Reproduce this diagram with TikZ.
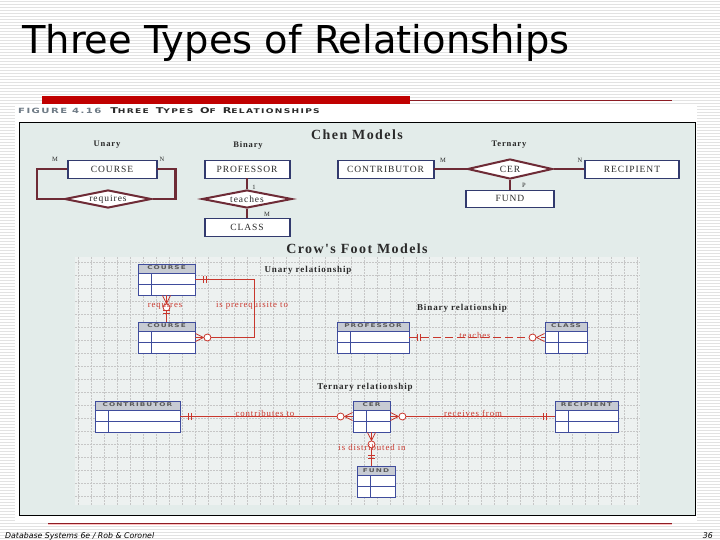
\documentclass[tikz,border=0pt]{standalone}
\usepackage{fontspec}
\setmainfont{Liberation Serif}
\newfontfamily\slidefont{DejaVu Sans}
\newfontfamily\capfont[FakeStretch=1.4,LetterSpace=20]{DejaVu Sans}
\newfontfamily\chenfont[LetterSpace=10]{Liberation Serif}
\usepackage{xcolor}
\usetikzlibrary{positioning,shapes.geometric,decorations.markings}

\definecolor{stripe}{HTML}{E2E2E2}
\definecolor{barred}{HTML}{C00000}
\definecolor{linered}{HTML}{8C1C24}
\definecolor{framefill}{HTML}{E3ECEA}
\definecolor{gridfill}{HTML}{EDF1F0}
\definecolor{chenline}{HTML}{6E2B36}
\definecolor{chennavy}{HTML}{323A6E}
\definecolor{entblue}{HTML}{3F4C9C}
\definecolor{headgrey}{HTML}{C7CBD3}
\definecolor{relred}{HTML}{C8372D}
\definecolor{figgrey}{HTML}{6F7B86}
\definecolor{figdark}{HTML}{2A2A2A}

\newcommand{\bigsc}[2]{{\fontsize{8}{9}\selectfont #1}{\fontsize{6.5}{7}\selectfont #2}}

\tikzset{
    onestart/.style={postaction={decorate,decoration={markings,
        mark=at position 8pt with {\draw[solid,relred,line width=0.8pt] (0pt,-3.5pt) -- (0pt,3.5pt);},
        mark=at position 11pt with {\draw[solid,relred,line width=0.8pt] (0pt,-3.5pt) -- (0pt,3.5pt);}}}},
    oneend/.style={postaction={decorate,decoration={markings,
        mark=at position -8pt with {\draw[solid,relred,line width=0.8pt] (0pt,-3.5pt) -- (0pt,3.5pt);},
        mark=at position -11pt with {\draw[solid,relred,line width=0.8pt] (0pt,-3.5pt) -- (0pt,3.5pt);}}}},
    manystart/.style={postaction={decorate,decoration={markings,
        mark=at position 8pt with {\draw[solid,relred,line width=0.8pt] (-8pt,4pt) -- (0pt,0pt) -- (-8pt,-4pt);
            \draw[solid,relred,line width=0.8pt,fill=white] (4pt,0pt) circle (3.5pt);}}}},
    manyend/.style={postaction={decorate,decoration={markings,
        mark=at position -8pt with {\draw[solid,relred,line width=0.8pt] (8pt,4pt) -- (0pt,0pt) -- (8pt,-4pt);
            \draw[solid,relred,line width=0.8pt,fill=white] (-4pt,0pt) circle (3.5pt);}}}},
}

\begin{document}
\begin{tikzpicture}[x=1pt,y=-1pt,
    chenbox/.style={draw=chennavy, line width=0.8pt, fill=white, inner sep=0pt, minimum height=18pt,
        font=\chenfont\fontsize{9.5}{10}\selectfont, text=figdark,
        path picture={\draw[chennavy,line width=3pt]
            (path picture bounding box.north west) -- (path picture bounding box.south west)
            (path picture bounding box.north east) -- (path picture bounding box.south east);}},
    chenrel/.style={diamond, aspect=5, draw=chenline, line width=2pt, fill=white, inner sep=0.5pt,
        font=\chenfont\fontsize{9.5}{10}\selectfont, text=figdark},
    chenlink/.style={draw=chenline, line width=2.2pt},
    chenhead/.style={font=\chenfont\bfseries\fontsize{8.5}{9}\selectfont, text=figdark},
    card/.style={font=\chenfont\fontsize{6.5}{7}\selectfont, text=figdark, inner sep=0pt},
    crowent/.style={draw=entblue, line width=0.9pt, fill=white, inner sep=0pt, minimum height=31pt,
        path picture={
            \fill[headgrey] (path picture bounding box.north west) rectangle ([yshift=-9pt]path picture bounding box.north east);
            \draw[entblue,line width=0.9pt]
                ([yshift=-9pt]path picture bounding box.north west) -- ([yshift=-9pt]path picture bounding box.north east)
                ([yshift=-20pt]path picture bounding box.north west) -- ([yshift=-20pt]path picture bounding box.north east)
                ([xshift=13pt,yshift=-9pt]path picture bounding box.north west) -- ([xshift=13pt]path picture bounding box.south west);}},
    entlabel/.style={anchor=north, inner sep=0pt, yshift=-2.2pt, font=\capfont\bfseries\fontsize{5.2}{5.2}\selectfont, text=black!65},
    relline/.style={draw=relred, line width=0.9pt},
    rellabel/.style={font=\chenfont\fontsize{8.8}{9}\selectfont, text=relred, inner sep=0pt},
    cfhead/.style={font=\chenfont\bfseries\fontsize{9}{9}\selectfont, text=figdark, inner sep=0pt},
    gridline/.style={draw=gray!45, line width=0.4pt, dash pattern=on 1.5pt off 1.5pt}]
    \useasboundingbox (0,0) rectangle (720,540);
    % slide background
    \fill[white] (0,0) rectangle (720,540);
    \foreach \y in {1.5,4.5,...,540}
        \draw[stripe,line width=0.7pt] (0,\y) -- (720,\y);
    \fill[white] (15,104) rectangle (697,521);
    \node[anchor=base west, inner sep=0pt, font=\slidefont\fontsize{38.4}{40}\selectfont] (title) at (22,54) {Three Types of Relationships};
    \fill[barred] (42,96) rectangle (410,104);
    \draw[linered,line width=0.8pt] (410,100) -- (672,100);
    \node[anchor=base west, inner sep=0pt] (caption) at (18,114) {{\capfont\bfseries\fontsize{7.2}{8}\selectfont\color{figgrey}FIGURE 4.16}\hspace{9pt}{\capfont\bfseries\color{figdark}\bigsc{T}{HREE} \bigsc{T}{YPES} \bigsc{O}{F} \bigsc{R}{ELATIONSHIPS}}};
    \draw[black, line width=0.9pt, fill=framefill] (19,122) rectangle (695,515);

    % Chen models
    \node[font=\chenfont\bfseries\fontsize{14}{15}\selectfont, text=figdark] (chentitle) at (357,135) {Chen Models};
    \node[chenhead] (hunary) at (107,145) {Unary};
    \node[chenhead] (hbinary) at (248,145) {Binary};
    \node[chenhead] (hternary) at (509,145) {Ternary};

    \node[chenbox, minimum width=90pt] (course) at (112,169) {COURSE};
    \node[chenrel, minimum width=87pt, minimum height=18pt] (requires) at (108,199) {requires};
    \draw[chenlink] (course.west) -- ++(-30,0) |- (requires.west);
    \draw[chenlink] (course.east) -- ++(18,0) |- (requires.east);
    \node[card] (cm1) at (55,159) {M};
    \node[card] (cn1) at (162,159) {N};

    \node[chenbox, minimum width=86pt] (prof) at (247,169) {PROFESSOR};
    \node[chenrel, minimum width=90pt, minimum height=18pt] (teaches) at (247,199) {teaches};
    \node[chenbox, minimum width=86pt] (class) at (247,227) {CLASS};
    \draw[chenlink] (prof.south) -- (teaches.north);
    \draw[chenlink] (teaches.south) -- (class.north);
    \node[card] (c1) at (254,187) {1};
    \node[card] (cm2) at (267,214) {M};

    \node[chenbox, minimum width=97pt] (contrib) at (385.5,169) {CONTRIBUTOR};
    \node[chenrel, minimum width=85pt, minimum height=20pt] (cerrel) at (510,169) {CER};
    \node[chenbox, minimum width=95pt] (recip) at (632,169) {RECIPIENT};
    \node[chenbox, minimum width=89pt, minimum height=17pt] (fund) at (510,198.5) {FUND};
    \draw[chenlink] (contrib.east) -- (cerrel.west);
    \draw[chenlink] (cerrel.east) -- (recip.west);
    \draw[chenlink] (cerrel.south) -- (fund.north);
    \node[card] (cm3) at (443,160) {M};
    \node[card] (cn3) at (580,160) {N};
    \node[card] (cp3) at (524,185) {P};

    % Crow's Foot models
    \node[font=\chenfont\bfseries\fontsize{14}{15}\selectfont, text=figdark] (crowtitle) at (357,249) {Crow's Foot Models};
    \fill[gridfill] (75,257) rectangle (640,505);
    \foreach \x in {78,91,...,640}
        \draw[gridline] (\x,257) -- (\x,505);
    \foreach \y in {262,275,...,505}
        \draw[gridline] (75,\y) -- (640,\y);

    \node[crowent, minimum width=57pt, label={[entlabel]north:COURSE}] (crstop) at (166.5,279.5) {};
    \node[crowent, minimum width=57pt, label={[entlabel]north:COURSE}] (crsbot) at (166.5,337.5) {};
    \node[cfhead] (lunary) at (308,270) {Unary relationship};
    \draw[relline, onestart, manyend] (crstop.east) -- ++(58.5,0) |- (crsbot.east);
    \draw[relline, manystart, oneend] (crstop.south) -- (crsbot.north);
    \node[rellabel] (lreq) at (165,306) {requires};
    \node[rellabel] (lpre) at (252,306) {is prerequisite to};

    \node[cfhead] (lbinary) at (462,308) {Binary relationship};
    \node[crowent, minimum width=72pt, label={[entlabel]north:PROFESSOR}] (cfprof) at (373,337.5) {};
    \node[crowent, minimum width=42pt, label={[entlabel]north:CLASS}] (cfclass) at (566,337.5) {};
    \draw[relline, dash pattern=on 8pt off 4pt, onestart, manyend] (cfprof.east) -- (cfclass.west);
    \node[rellabel] (lteach) at (475,335) {teaches};

    \node[cfhead] (lternary) at (365,387) {Ternary relationship};
    \node[crowent, minimum width=85pt, label={[entlabel]north:CONTRIBUTOR}] (cfcontrib) at (137.5,416.5) {};
    \node[crowent, minimum width=37pt, label={[entlabel]north:CER}] (cfcer) at (371.5,416.5) {};
    \node[crowent, minimum width=63pt, label={[entlabel]north:RECIPIENT}] (cfrecip) at (586.5,416.5) {};
    \node[crowent, minimum width=38pt, label={[entlabel]north:FUND}] (cffund) at (376,482) {};
    \draw[relline, onestart, manyend] (cfcontrib.east) -- (cfcer.west);
    \draw[relline, manystart, oneend] (cfcer.east) -- (cfrecip.west);
    \draw[relline, manystart, oneend] (cfcer.south) -- (cfcer.south |- cffund.north);
    \node[rellabel] (lcontr) at (265,413) {contributes to};
    \node[rellabel] (lrecv) at (473,413) {receives from};
    \node[rellabel] (ldist) at (372,447) {is distributed in};

    % footer
    \draw[linered, line width=0.8pt] (48,523) -- (672,523);
    \draw[red!25, line width=0.8pt] (48,524.3) -- (672,524.3);
    \node[anchor=base west, inner sep=0pt, font=\slidefont\itshape\fontsize{7.8}{8}\selectfont] (footer) at (5,538) {Database Systems 6e / Rob \& Coronel};
    \node[anchor=base east, inner sep=0pt, font=\slidefont\itshape\fontsize{7.8}{8}\selectfont] (pageno) at (713,538) {36};
\end{tikzpicture}
\end{document}
